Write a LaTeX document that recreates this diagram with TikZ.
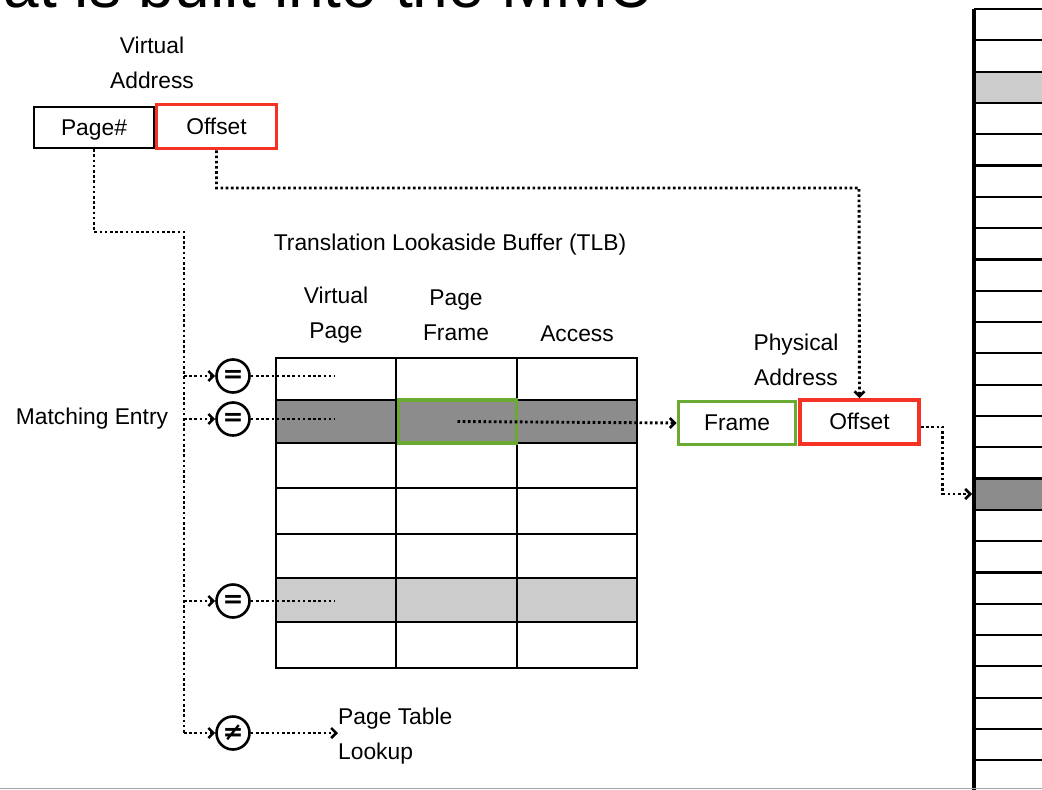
\documentclass[tikz,border=0pt]{standalone}
\usepackage{fontspec}
\setmainfont{Liberation Sans}
\newfontfamily\symfam{DejaVu Sans}
\usepackage{tikz}
\usetikzlibrary{arrows.meta}
\usetikzlibrary{calc}

\definecolor{boxred}{RGB}{245,50,35}
\definecolor{boxgreen}{RGB}{106,170,50}
\definecolor{rowdark}{RGB}{140,140,140}
\definecolor{rowlight}{RGB}{204,204,204}

\newcommand{\lblfont}{\fontsize{22.8}{35}\selectfont}
\newcommand{\cmpfont}{\symfam\bfseries\fontsize{25}{25}\selectfont}
\newcommand{\ttlfont}{\fontsize{64}{70}\selectfont}

\tikzset{
	lbl/.style={font=\lblfont, align=center, inner sep=0pt},
	field/.style={draw, line width=2.4pt, font=\lblfont, inner sep=0pt, text height=17pt, text depth=2pt, minimum width=120pt, minimum height=42pt},
	redfield/.style={field, draw=boxred, line width=3.8pt},
	greenfield/.style={field, draw=boxgreen, line width=3.8pt},
	cmp/.style={circle, draw, line width=2.6pt, minimum size=33pt, inner sep=0pt, font=\cmpfont},
	dots/.style={line width=2.9pt, dash pattern=on 2.6pt off 2.6pt},
	grid/.style={line width=2.2pt},
}

\begin{document}
\begin{tikzpicture}[x=1pt, y=-1pt, >={Straight Barb[length=5pt,width=10pt,line width=2.6pt]}]
		\clip (0,0) rectangle (1042,790);
		%\useasboundingbox (0,0) rectangle (1042,790);
		\node[anchor=base east, font=\ttlfont, inner sep=0pt] (title) at (655,7) {that is built into the MMU};

		% virtual address
		\node[lbl] (valbl) at (152,63) {Virtual\\Address};
		\node[field, minimum height=41pt] (page) at (94,127.5) {Page\#};
		\node[redfield, minimum height=44pt] (voff) at (216.5,126.5) {Offset};

		% TLB
		\node[lbl] (tlbttl) at (450,245) {Translation Lookaside Buffer (TLB)};
		\node[lbl] (hvp) at (336,315) {Virtual\\Page};
		\node[lbl] (hpf) at (456,315) {Page\\Frame};
		\node[lbl] (hacc) at (577,334) {Access};
		\fill[rowdark] (276,400) rectangle (637,443);
		\fill[rowlight] (276,578) rectangle (637,622);
		\foreach \y in {400,443,488,534,578,622}
			\draw[grid] (276,\y) -- (637,\y);
		\foreach \x in {396,517}
			\draw[grid] (\x,358) -- (\x,668);
		\draw[grid, line width=2.8pt] (276,358) rectangle (637,668);
		\node[greenfield, minimum width=118pt, minimum height=43pt] (pfcell) at (457.5,421.5) {};

		% comparators
		\node[cmp] (eq1) at (233,376) {=};
		\node[cmp] (eq2) at (233,419) {=};
		\node[cmp] (eq3) at (233,601) {=};
		\node[cmp] (neq) at (233,733) {≠};
		\node[lbl] (match) at (92,419) {Matching Entry};
		\node[lbl, anchor=west, align=left] (ptl) at (338,736) {Page Table\\Lookup};

		% physical address
		\node[lbl] (palbl) at (796,360) {Physical\\Address};
		\node[greenfield, minimum width=117pt, minimum height=43pt] (frame) at (737,423) {Frame};
		\node[redfield, minimum width=119pt, minimum height=44pt] (poff) at (859.5,422) {Offset};

		% memory
		\fill[rowlight] (974,71.6) rectangle (1042,102.9);
		\fill[rowdark] (974,478.5) rectangle (1042,509.8);
		\foreach \k in {0,...,24}
			\draw[grid] (974,{9+31.3*\k}) -- (1042,{9+31.3*\k});
		\draw[line width=3.2pt] (974,9) -- (974,790);
		\draw[gray!70, line width=1.5pt] (0,788.5) -- (1042,788.5);

		% connectors
		\coordinate (trunk) at (184,232);
		\coordinate (vpcol) at (335,0);
		\coordinate (vbend) at (859,188);
		\coordinate (memrow) at (972,494);
		\draw[dots] (page.south) |- (trunk) -- (trunk |- neq);
		\foreach \c in {eq1,eq2,eq3,neq}
			\draw[dots,->] (trunk |- \c) -- (\c.west);
		\foreach \c in {eq1,eq2,eq3}
			\draw[dots] (\c.east) -- (\c -| vpcol);
		\draw[dots,->] (neq.east) -- (neq -| ptl.west);
		\draw[dots,->] (voff.south) |- (vbend) -- (poff.north);
		\draw[dots,->] (pfcell.center) -- (frame.west);
		\draw[dots,->] ([yshift=-5pt]poff.east) -- ++(22,0) |- (memrow);
\end{tikzpicture}
\end{document}
